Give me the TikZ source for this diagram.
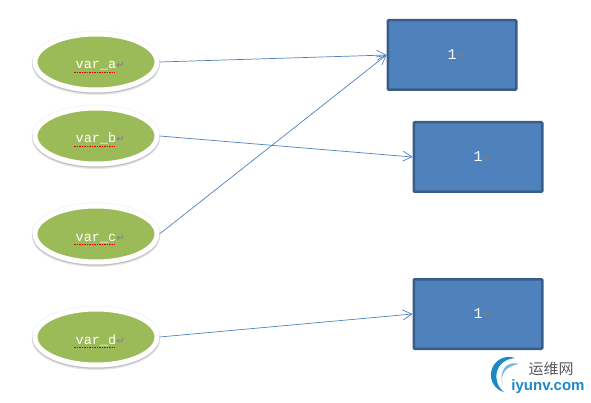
\documentclass[tikz,border=0pt]{standalone}
\usepackage{fontspec}
\setmainfont{Liberation Mono}
\newfontfamily\arrowfont{DejaVu Sans}
\newfontfamily\cnfont{Noto Sans CJK SC}
\newfontfamily\sitefont{Liberation Sans}
\definecolor{varGreen}{HTML}{9BBB59}
\definecolor{boxBlue}{HTML}{4F81BD}
\definecolor{boxEdge}{HTML}{385D8A}
\definecolor{logoBlue}{HTML}{1E88C7}
\usetikzlibrary{positioning,arrows.meta,shapes.geometric,shadows}
\newcommand{\retmark}{\rlap{\arrowfont\fontsize{10}{10}\selectfont\textcolor{gray}{↵}}}
\newcommand{\varname}[1]{\raisebox{-7pt}[0pt][0pt]{var\_#1\retmark}}

\begin{document}
\begin{tikzpicture}[x=1pt,y=1pt,
      every node/.style={font=\fontsize{13.5}{16}\selectfont},
      var/.style={ellipse,draw=white,line width=5pt,fill=varGreen,
                  minimum width=122pt,minimum height=56pt,inner sep=0pt,text=white,
                  drop shadow={shadow xshift=0pt,shadow yshift=0pt,opacity=0.04,
                               fill=black,draw=black,line width=7pt},
                  drop shadow={shadow xshift=0pt,shadow yshift=-2pt,opacity=0.10,
                               fill=black,draw=black,line width=6pt},
                  drop shadow={shadow xshift=0pt,shadow yshift=-1.2pt,opacity=0.14,
                               fill=black,draw=black,line width=5pt}},
      slot/.style={rectangle,rounded corners=1pt,draw=boxEdge,fill=boxBlue,
                   line width=2.5pt,minimum width=128.5pt,minimum height=69.5pt,
                   inner sep=0pt,text=white,font=\fontsize{15}{16}\selectfont},
      arr/.style={-{Straight Barb[length=9pt,width=10pt]},boxBlue,line width=0.7pt},
      spell/.style={red!90!black,line width=0.8pt,dash pattern=on 1.5pt off 1pt},
    ]
    \useasboundingbox (0,0) rectangle (591,-403);

    % Variables
    \node[var] (vara) at (96,-62) {\varname{a}};
    \node[var,below=13pt of vara] (varb) {\varname{b}};
    \node[var,below=37pt of varb] (varc) {\varname{c}};
    \node[var,below=42pt of varc] (vard) {\varname{d}};

    % Values
    \node[slot,right=227pt of vara,yshift=7pt] (one) {1\retmark};
    \node[slot,right=253pt of varb,yshift=-21pt] (two) {1\retmark};
    \node[slot,right=253pt of vard,yshift=23pt] (three) {1\retmark};

    % Spelling marks
    \foreach \n in {vara,varb,varc,vard}
      \draw[spell] (\n.center) ++(-22,-10) -- ++(41,0);

    % Arrow connections
    \draw[arr] (vara.east) -- (one.west);
    \draw[arr] (varb.east) -- (two.west);
    \draw[arr] (varc.east) -- (one.west);
    \draw[arr] (vard.east) -- (three.west);

    % Logo
    \node[font=\cnfont\fontsize{15}{15}\selectfont,text=black!65,inner sep=0pt] (logocn) at (551,-369) {运维网};
    \node[font=\sitefont\bfseries\fontsize{15}{15}\selectfont,text=logoBlue,inner sep=0pt] (logosite) at (548,-387) {iyunv.com};
    \fill[logoBlue] (515,-358) arc[start angle=70,end angle=255,radius=18]
      .. controls (491,-382) and (494,-360) .. (515,-358) -- cycle;
    \fill[logoBlue!60] (519,-364) .. controls (508,-366) and (499,-372) .. (503,-386)
      .. controls (498,-372) and (506,-360) .. (519,-364) -- cycle;
  \end{tikzpicture}
\end{document}
